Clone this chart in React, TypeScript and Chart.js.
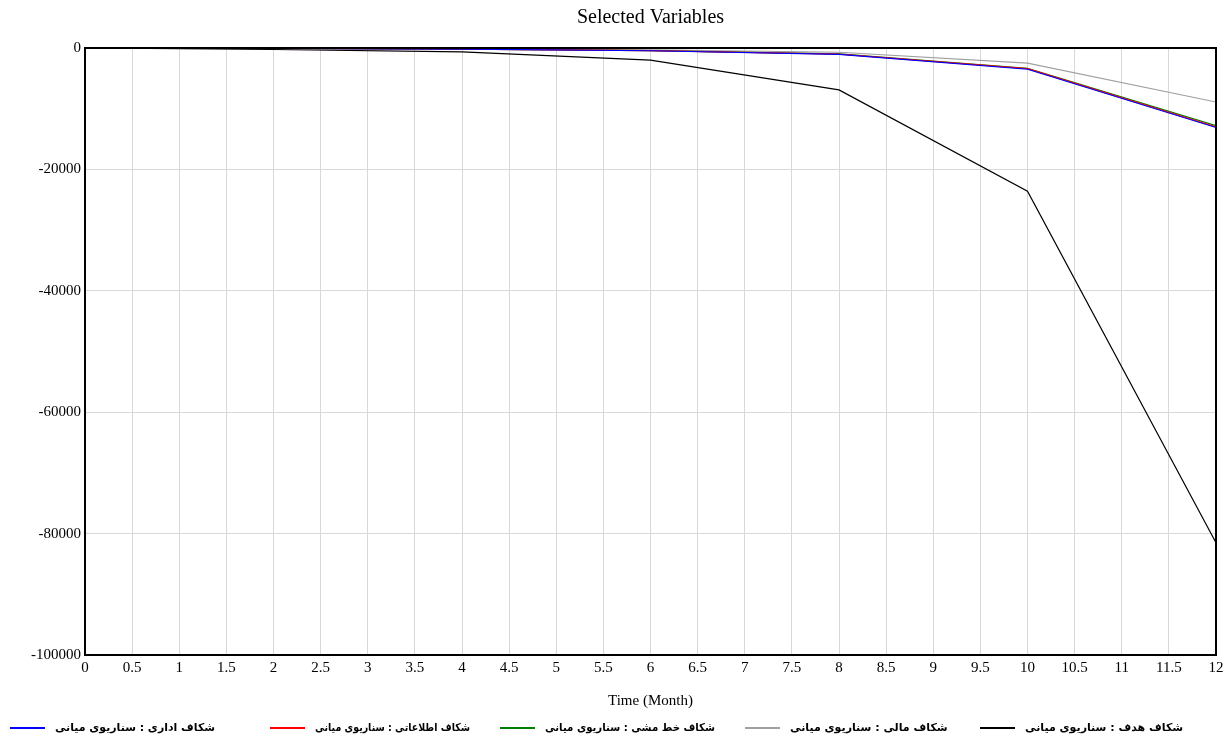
import React, { useEffect, useRef } from "react";
import { Chart, registerables } from "chart.js";

Chart.register(...registerables);

const months = [0, 2, 4, 6, 8, 10, 12];
const adminGap = [0, -80, -200, -450, -1050, -3500, -13100];
const infoGap = [0, -70, -190, -430, -1000, -3400, -13000];
const policyGap = [0, -70, -180, -420, -980, -3350, -12800];
const financeGap = [0, -50, -130, -300, -700, -2500, -8900];
const goalGap = [0, -250, -650, -2000, -6900, -23600, -81500];

const seriesNames = [
  "شکاف اداری : سناریوی میانی",
  "شکاف اطلاعاتی : سناریوی میانی",
  "شکاف خط مشی : سناریوی میانی",
  "شکاف مالی : سناریوی میانی",
  "شکاف هدف : سناریوی میانی",
];
const seriesColors = ["#0000ff", "#ff0000", "#008000", "#a0a0a0", "#000000"];
const legendX = [10, 270, 500, 745, 980];
const legendTextWidth = [160, 155, 170, 160, 185];

const xTicks = [0, 0.5, 1, 1.5, 2, 2.5, 3, 3.5, 4, 4.5, 5, 5.5, 6, 6.5, 7, 7.5, 8, 8.5, 9, 9.5, 10, 10.5, 11, 11.5, 12];
const yTicks = [0, -20000, -40000, -60000, -80000, -100000];

const serif = "'Liberation Serif', 'Times New Roman', serif";

const framePlugin = {
  id: "frameAndExtras",
  afterDraw(chart: any) {
    const { ctx, chartArea } = chart;
    ctx.save();
    ctx.strokeStyle = "#000";
    ctx.lineWidth = 2;
    ctx.strokeRect(chartArea.left, chartArea.top, chartArea.right - chartArea.left, chartArea.bottom - chartArea.top);
    ctx.fillStyle = "#000";
    ctx.font = `20px ${serif}`;
    ctx.textAlign = "center";
    ctx.textBaseline = "middle";
    ctx.fillText("Selected Variables", (chartArea.left + chartArea.right) / 2, 18);
    const ly = 728;
    ctx.font = "bold 11px 'DejaVu Sans', sans-serif";
    ctx.textAlign = "left";
    seriesNames.forEach((name, i) => {
      const x = legendX[i];
      ctx.strokeStyle = seriesColors[i];
      ctx.lineWidth = 2;
      ctx.beginPath();
      ctx.moveTo(x, ly);
      ctx.lineTo(x + 35, ly);
      ctx.stroke();
      ctx.fillStyle = "#000";
      ctx.fillText(name, x + 45, ly, legendTextWidth[i]);
    });
    ctx.restore();
  },
};

export default function App() {
  const ref = useRef<HTMLCanvasElement>(null);
  useEffect(() => {
    document.body.style.margin = "0";
    const mk = (label: string, data: number[], color: string) => ({
      label,
      data: months.map((m, i) => ({ x: m, y: data[i] })),
      borderColor: color,
      backgroundColor: color,
      borderWidth: 1.2,
      pointRadius: 0,
      tension: 0,
      fill: false,
    });
    const chart = new Chart(ref.current!, {
      type: "line",
      data: {
        datasets: [
          mk(seriesNames[0], adminGap, seriesColors[0]),
          mk(seriesNames[1], infoGap, seriesColors[1]),
          mk(seriesNames[2], policyGap, seriesColors[2]),
          mk(seriesNames[3], financeGap, seriesColors[3]),
          mk(seriesNames[4], goalGap, seriesColors[4]),
        ],
      },
      options: {
        animation: false,
        responsive: false,
        layout: { padding: { top: 48, right: 16, bottom: 34, left: 0 } },
        plugins: { legend: { display: false }, title: { display: false }, tooltip: { enabled: false } },
        scales: {
          x: {
            type: "linear",
            min: 0,
            max: 12,
            afterBuildTicks: (s: any) => {
              s.ticks = xTicks.map((v) => ({ value: v }));
            },
            afterFit: (s: any) => {
              s.height = 55;
            },
            ticks: {
              color: "#000",
              font: { family: serif, size: 15 },
              padding: 4,
              maxRotation: 0,
              autoSkip: false,
              callback: (v: any) => String(v),
            },
            grid: { color: "#d8d8d8", drawTicks: false, lineWidth: 1 },
            border: { color: "#000", width: 2 },
            title: {
              display: true,
              text: "Time (Month)",
              color: "#000",
              font: { family: serif, size: 15 },
              padding: { top: 8, bottom: 0 },
            },
          },
          y: {
            type: "linear",
            min: -100000,
            max: 0,
            afterBuildTicks: (s: any) => {
              s.ticks = yTicks.map((v) => ({ value: v }));
            },
            afterFit: (s: any) => {
              s.width = 85;
            },
            ticks: {
              color: "#000",
              font: { family: serif, size: 15 },
              padding: 4,
              autoSkip: false,
              callback: (v: any) => String(v),
            },
            grid: { color: "#d8d8d8", drawTicks: false, lineWidth: 1 },
            border: { color: "#000", width: 2 },
          },
        },
      },
      plugins: [framePlugin],
    });
    return () => chart.destroy();
  }, []);
  return (
    <div style={{ position: "fixed", left: 0, top: 0, width: 1232, height: 744, background: "#fff" }}>
      <canvas ref={ref} width={1232} height={744} style={{ width: 1232, height: 744 }} />
    </div>
  );
}
